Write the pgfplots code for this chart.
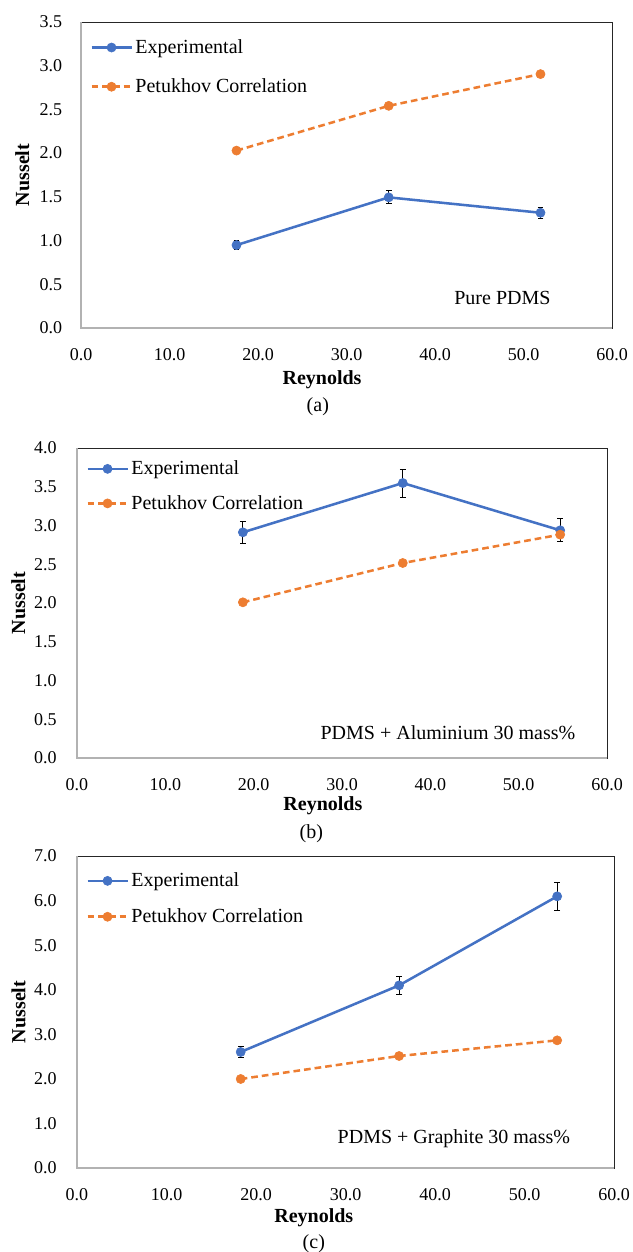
\documentclass[border=0pt]{standalone}
\usepackage{pgfplots}
\pgfplotsset{compat=1.18}
\usepackage{fontspec}
\setmainfont{Liberation Serif}
\definecolor{cexp}{HTML}{4472C4}
\definecolor{cpet}{HTML}{ED7D31}

\pgfplotsset{
  nuss/.style={
    scale only axis,
    anchor=south west,
    clip=false,
    xmin=0, xmax=60, xtick={0,10,20,30,40,50,60},
    ymin=0,
    axis line style={black!85, line width=0.6pt},
    major tick length=0pt,
    /pgf/number format/fixed,
    /pgf/number format/fixed zerofill,
    /pgf/number format/precision=1,
    /pgf/number format/assume math mode=true,
    tick label style={font=\rmfamily\fontsize{13.5}{15}\selectfont},
    xticklabel style={anchor=center, yshift=-20pt},
    yticklabel style={anchor=east, inner sep=0pt},
    xlabel={Reynolds},
    ylabel={Nusselt},
    label style={font=\rmfamily\bfseries\fontsize{15}{17}\selectfont},
    xlabel style={anchor=center},
    ylabel style={anchor=center},
    legend cell align=left,
    legend style={draw=none, fill=none, at={(axis description cs:0,1)}, anchor=north west,
      xshift=6.75pt, yshift=-11pt, font=\rmfamily\fontsize{15}{17}\selectfont, row sep=13.5pt,
      inner sep=0pt},
    legend image code/.code={
      \draw[#1, mark=none] (0pt,0pt) -- (30pt,0pt);
      \draw[#1, only marks] plot coordinates {(15pt,0pt)};
    },
  },
  expst/.style={color=cexp, line width=1.9pt, mark=*, mark size=3.4pt, mark options={solid, fill=cexp, draw=cexp, line width=0.5pt},
    error bars/.cd, y dir=both, y explicit,
    error bar style={black, line width=0.7pt, solid},
    error mark options={black, rotate=90, mark size=2.2pt, line width=0.7pt}},
  petst/.style={color=cpet, line width=1.9pt, dash pattern=on 5pt off 3pt, mark=*, mark size=3.4pt, mark options={solid, fill=cpet, draw=cpet, line width=0.5pt}},
}

\begin{document}
\begin{tikzpicture}
\path[use as bounding box] (0,0) rectangle (474pt,939pt);

% (a)
\begin{axis}[nuss, at={(60.75pt,693pt)}, width=398.25pt, height=229.5pt,
  ymax=3.5, ytick={0,0.5,1,1.5,2,2.5,3,3.5},
  yticklabel style={xshift=-14pt},
  xlabel style={at={(axis description cs:0.454,-0.17)}},
  ylabel style={at={(axis description cs:-0.1105,0.5)}}]
\addplot[expst] coordinates {(17.57,0.948) +- (0,0.05) (34.77,1.494) +- (0,0.075) (51.92,1.318) +- (0,0.063)};
\addlegendentry{Experimental}
\addplot[petst] coordinates {(17.57,2.029) (34.77,2.541) (51.92,2.904)};
\addlegendentry{Petukhov Correlation}
\draw[black!30, line width=0.8pt] (rel axis cs:0,1) -- (rel axis cs:0,0) -- (rel axis cs:1,0);
\node[anchor=east, font=\rmfamily\fontsize{15}{17}\selectfont] at (axis description cs:0.893,0.098) {Pure PDMS};
\node[font=\rmfamily\fontsize{15}{17}\selectfont] at (axis description cs:0.446,-0.258) {(a)};
\end{axis}

% (b)
\begin{axis}[nuss, at={(57.75pt,370.5pt)}, width=397.5pt, height=232.5pt,
  ymax=4, ytick={0,0.5,1,1.5,2,2.5,3,3.5,4},
  yticklabel style={xshift=-15pt},
  legend style={yshift=3.5pt, row sep=10pt},
  xlabel style={at={(axis description cs:0.464,-0.155)}},
  ylabel style={at={(axis description cs:-0.1107,0.5)}}]
\addplot[expst] coordinates {(18.78,2.912) +- (0,0.146) (36.88,3.548) +- (0,0.18) (54.7,2.938) +- (0,0.148)};
\addlegendentry{Experimental}
\addplot[petst] coordinates {(18.78,2.009) (36.88,2.516) (54.7,2.882)};
\addlegendentry{Petukhov Correlation}
\draw[black!30, line width=0.8pt] (rel axis cs:0,1) -- (rel axis cs:0,0) -- (rel axis cs:1,0);
\node[anchor=east, font=\rmfamily\fontsize{15}{17}\selectfont] at (axis description cs:0.949,0.081) {PDMS + Aluminium 30 mass\%};
\node[font=\rmfamily\fontsize{15}{17}\selectfont] at (axis description cs:0.442,-0.245) {(b)};
\end{axis}

% (c)
\begin{axis}[nuss, at={(57.75pt,63pt)}, width=402.75pt, height=234pt,
  ymax=7, ytick={0,1,2,3,4,5,6,7},
  yticklabel style={xshift=-15pt},
  legend style={yshift=0.5pt, row sep=11pt},
  xlabel style={at={(axis description cs:0.441,-0.16)}},
  ylabel style={at={(axis description cs:-0.109,0.5)}}]
\addplot[expst] coordinates {(18.29,2.603) +- (0,0.13) (35.99,4.098) +- (0,0.21) (53.65,6.095) +- (0,0.31)};
\addlegendentry{Experimental}
\addplot[petst] coordinates {(18.29,1.997) (35.99,2.513) (53.65,2.864)};
\addlegendentry{Petukhov Correlation}
\draw[black!30, line width=0.8pt] (rel axis cs:0,1) -- (rel axis cs:0,0) -- (rel axis cs:1,0);
\node[anchor=east, font=\rmfamily\fontsize{15}{17}\selectfont] at (axis description cs:0.927,0.093) {PDMS + Graphite 30 mass\%};
\node[font=\rmfamily\fontsize{15}{17}\selectfont] at (axis description cs:0.441,-0.244) {(c)};
\end{axis}
\end{tikzpicture}
\end{document}
